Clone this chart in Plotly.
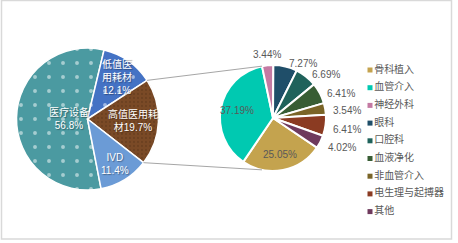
import math
import plotly.graph_objects as go

W, H = 458, 243

# ---- data ----
main_labels = ["医疗设备", "低值医用耗材", "高值医用耗材", "IVD"]
main_text = ["医疗设备<br>56.8%", "低值医<br>用耗材<br>12.1%", "高值医用耗<br>材19.7%", "IVD<br>11.4%"]
main_values = [56.8, 12.1, 19.7, 11.4]
main_colors = ["#4b9aa1", "#4472c4", "#7a4a26", "#6b9bd6"]

sub_labels = ["骨科植入", "血管介入", "神经外科", "眼科", "口腔科", "血液净化", "非血管介入", "电生理与起搏器", "其他"]
sub_values = [25.05, 37.19, 3.44, 7.27, 6.69, 6.41, 3.54, 6.41, 4.02]
sub_colors = ["#c4a34e", "#00c9b1", "#c47aa3", "#1f4e69", "#1f625b", "#385d34", "#7a6427", "#8b3b22", "#6f3a5d"]

FONT = "Liberation Sans, Arial, Noto Sans CJK SC"
CJK = "Noto Sans CJK SC"

# ---- geometry (pixels -> paper) ----
def dom(cx, cy, r):
    return dict(x=[(cx - r) / W, (cx + r) / W], y=[1 - (cy + r) / H, 1 - (cy - r) / H])

p1 = (87.5, 119, 71)
p2 = (273, 118, 53)
rot1 = 169
rot2 = 124
main_label_r = [0.26, 0.73, 0.64, 0.74]
sub_inside = [True, True, False, False, False, False, False, False, False]

fig = go.Figure()

fig.add_trace(go.Pie(
    labels=main_labels, values=main_values, textinfo="none",
    sort=False, direction="clockwise", rotation=rot1,
    domain=dom(*p1), showlegend=False,
    marker=dict(colors=main_colors, line=dict(color="white", width=1.5),
                pattern=dict(shape=[".", ".", ".", ""], size=[14, 14, 4, 8],
                             solidity=[0.06, 0.06, 0.25, 0.1],
                             fgcolor=["white", "white", "#5e3519", "#6b9bd6"],
                             bgcolor=main_colors, fillmode="overlay")),
    hoverinfo="label+percent",
))

fig.add_trace(go.Pie(
    labels=sub_labels, values=sub_values, textinfo="none",
    sort=False, direction="clockwise", rotation=rot2,
    domain=dom(*p2), showlegend=False,
    marker=dict(colors=sub_colors, line=dict(color="white", width=2)),
    hoverinfo="label+percent",
))

# legend drawn as a marker column on hidden axes
fig.add_trace(go.Scatter(
    x=[0] * len(sub_labels), y=list(range(len(sub_labels))),
    mode="markers+text", text=sub_labels, textposition="middle right",
    marker=dict(symbol="square", size=5, color=sub_colors),
    textfont=dict(family=CJK, size=10, color="#595959"),
    cliponaxis=False, showlegend=False, hoverinfo="skip",
))

def mid_angles(values, rot):
    tot = sum(values)
    acc = 0
    out = []
    for v in values:
        out.append(rot + 360 * (acc + v / 2) / tot)
        acc += v
    return out

def pt(p, ang, k=1.0, extra=0.0):
    cx, cy, r = p
    a = math.radians(ang)
    rr = r * k + extra
    return cx + rr * math.sin(a), cy - rr * math.cos(a)

annotations = []
# main pie labels
for txt, ang, k in zip(main_text, mid_angles(main_values, rot1), main_label_r):
    x, y = pt(p1, ang, k)
    annotations.append(dict(x=x / W, y=1 - y / H, xref="paper", yref="paper", text=txt,
                            showarrow=False, xanchor="center", yanchor="middle",
                            font=dict(family=FONT, size=10, color="white",
                                      shadow="1px 1px 1px rgba(0,0,0,0.35)")))
# sub pie labels
for v, ang, ins in zip(sub_values, mid_angles(sub_values, rot2), sub_inside):
    txt = f"{v:.2f}%"
    if ins:
        x, y = pt(p2, ang, 0.7)
        xa, ya = "center", "middle"
    else:
        x, y = pt(p2, ang, 1.0, 6)
        s, c = math.sin(math.radians(ang)), math.cos(math.radians(ang))
        if abs(s) > 0.2:
            xa, ya = ("left" if s > 0 else "right"), "middle"
        else:
            xa, ya = "center", ("bottom" if c > 0 else "top")
        y += 3
    annotations.append(dict(x=x / W, y=1 - y / H, xref="paper", yref="paper", text=txt,
                            showarrow=False, xanchor=xa, yanchor=ya,
                            font=dict(family=FONT, size=10, color="#595959")))

# connector lines from the 高值医用耗材 slice to the sub pie
tot1 = sum(main_values)
a_start = rot1 + 360 * sum(main_values[:2]) / tot1
a_end = rot1 + 360 * sum(main_values[:3]) / tot1
tot2 = sum(sub_values)
b_top = rot2 + 360 * sum(sub_values[:2]) / tot2
b_bot = 180 - b_top

shapes = []
for a, b in [(a_start, b_top), (a_end, b_bot)]:
    x0, y0 = pt(p1, a)
    x1, y1 = pt(p2, b)
    shapes.append(dict(type="line", xref="paper", yref="paper",
                       x0=x0 / W, y0=1 - y0 / H, x1=x1 / W, y1=1 - y1 / H,
                       line=dict(color="#a6a6a6", width=1)))
shapes.append(dict(type="rect", xref="paper", yref="paper",
                   x0=1.5 / W, x1=451.5 / W, y0=1 - 239 / H, y1=1 - 0.5 / H,
                   line=dict(color="#d9d9d9", width=1.5), layer="below"))

n = len(sub_labels)
step = 17.7
top = 70 - step / 2
fig.update_layout(
    width=W, height=H, margin=dict(l=0, r=0, t=0, b=0, autoexpand=False),
    paper_bgcolor="white", plot_bgcolor="rgba(0,0,0,0)",
    xaxis=dict(visible=False, domain=[370 / W, 450 / W], range=[0, 1], fixedrange=True),
    yaxis=dict(visible=False, domain=[1 - (top + n * step) / H, 1 - top / H],
               range=[n - 0.5, -0.5], fixedrange=True),
    shapes=shapes, annotations=annotations, showlegend=False,
    font=dict(family=FONT),
)

fig.write_html("out.html")
